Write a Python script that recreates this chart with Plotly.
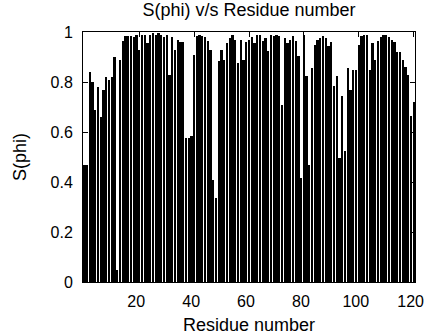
import plotly.graph_objects as go

# Order parameter S(phi) for each residue
residues = list(range(0, 121))
s_phi = [
    0.47, 0.47, 0.84, 0.80, 0.69, 0.78, 0.66, 0.77, 0.82, 0.81,
    0.82, 0.90, 0.05, 0.89, 0.965, 0.985, 0.985, 0.985, 0.98, 0.99,
    0.93, 0.99, 0.99, 0.955, 0.99, 0.995, 0.99, 0.995, 0.99, 0.98,
    0.99, 0.83, 0.98, 0.93, 0.97, 0.96, 0.96, 0.575, 0.575, 0.585,
    0.909, 0.983, 0.99, 0.983, 0.98, 0.963, 0.93, 0.409, 0.336, 0.883,
    0.93, 0.89, 0.956, 0.976, 0.987, 0.97, 0.876, 0.97, 0.89, 0.96,
    0.97, 0.98, 0.955, 0.99, 0.99, 0.963, 0.976, 0.923, 0.99, 0.983,
    0.987, 0.983, 0.709, 0.976, 0.956, 0.97, 0.983, 0.963, 0.903, 0.416,
    0.99, 0.823, 0.469, 0.856, 0.949, 0.969, 0.976, 0.983, 0.976, 0.943,
    0.96, 0.783, 0.823, 0.496, 0.743, 0.523, 0.856, 0.769, 0.849, 0.85,
    0.95, 0.985, 0.99, 0.99, 0.85, 0.956, 0.89, 0.963, 0.98, 0.99,
    0.99, 0.98, 0.97, 0.96, 0.92, 0.92, 0.89, 0.86, 0.83, 0.663,
    0.72,
]

x_ticks = [20, 40, 60, 80, 100, 120]
y_ticks = [0, 0.2, 0.4, 0.6, 0.8, 1]
y_tick_text = ["0", "0.2", "0.4", "0.6", "0.8", "1"]

FONT = "Liberation Sans"
TICK_SIZE = 16
TITLE_SIZE = 18

fig = go.Figure(
    go.Bar(
        x=residues,
        y=s_phi,
        width=0.82,
        marker=dict(color="black", line=dict(width=0)),
    )
)

axis_common = dict(
    showline=True,
    linecolor="black",
    linewidth=1,
    mirror="ticks",
    ticks="inside",
    ticklen=5,
    tickcolor="black",
    showgrid=False,
    zeroline=False,
    automargin=False,
    ticklabeloverflow="allow",
    tickfont=dict(family=FONT, size=TICK_SIZE, color="black"),
)

fig.update_layout(
    width=424,
    height=336,
    margin=dict(l=83, r=9, t=32, b=54, autoexpand=False),
    paper_bgcolor="white",
    plot_bgcolor="white",
    showlegend=False,
    bargap=0,
    title=dict(
        text="S(phi) v/s Residue number",
        font=dict(family=FONT, size=TITLE_SIZE, color="black"),
        x=0.5,
        xref="paper",
        xanchor="center",
        y=1 - 10 / 336,
        yref="container",
        yanchor="middle",
    ),
    xaxis=dict(
        range=[-0.5, 120.5],
        tickvals=x_ticks,
        ticktext=[str(v) for v in x_ticks],
        ticklabelstandoff=5,
        ticklabelshift=-3,
        **axis_common,
    ),
    yaxis=dict(
        range=[0, 1],
        tickvals=y_ticks,
        ticktext=y_tick_text,
        ticklabelstandoff=6,
        **axis_common,
    ),
    annotations=[
        dict(
            text="Residue number",
            xref="paper", yref="paper",
            x=0.5, y=-0.172,
            xanchor="center", yanchor="middle",
            showarrow=False,
            font=dict(family=FONT, size=TITLE_SIZE, color="black"),
        ),
        dict(
            text="S(phi)",
            xref="paper", yref="paper",
            x=-0.19, y=0.5,
            xanchor="center", yanchor="middle",
            textangle=-90,
            showarrow=False,
            font=dict(family=FONT, size=TITLE_SIZE, color="black"),
        ),
    ],
)

fig.write_html("out.html")
